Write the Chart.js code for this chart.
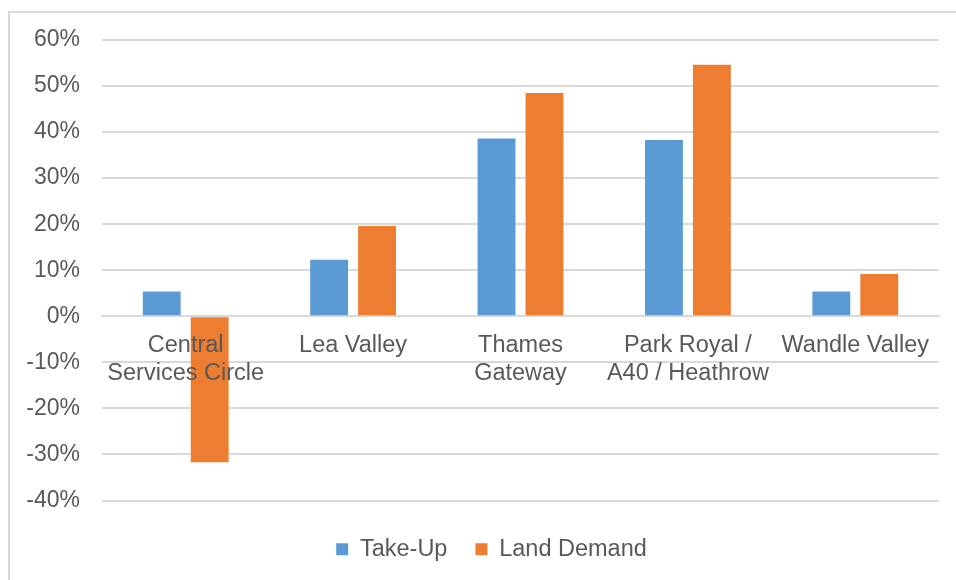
<!DOCTYPE html>
<html>
<head>
<meta charset="utf-8">
<script src="https://cdn.jsdelivr.net/npm/chart.js@4.4.1/dist/chart.umd.min.js"></script>
<style>
  html, body { margin: 0; padding: 0; background: #fff; }
  #wrap { position: relative; width: 956px; height: 580px; overflow: hidden; }
  #frame { position: absolute; left: 8px; top: 11px; width: 1000px; height: 700px;
           border-top: 2px solid #d9d9d9; border-left: 2px solid #d9d9d9; box-sizing: border-box; }
  canvas { position: absolute; left: 0; top: 0; }
</style>
</head>
<body>
<div id="wrap">
  <div id="frame"></div>
  <canvas id="c" width="956" height="580"></canvas>
</div>
<script>
const categories = [
  ["Central", "Services Circle"],
  ["Lea Valley"],
  ["Thames", "Gateway"],
  ["Park Royal /", "A40 / Heathrow"],
  ["Wandle Valley"]
];
const takeUp = [5.4, 12.3, 38.6, 38.3, 5.4];
const landDemand = [-31.7, 19.6, 48.5, 54.6, 9.2];
const seriesNames = ["Take-Up", "Land Demand"];
const yMin = -40, yMax = 60, yStep = 10;

const textColor = "#595959";
const gridColor = "#d9d9d9";
const fontFamily = "'Liberation Sans', Arial, sans-serif";

// shift the legend block to where the reference places it
const legendShift = {
  id: "legendShift",
  afterLayout(chart) {
    const lg = chart.legend;
    if (!lg) return;
    lg.left += 18; lg.right += 18;
    lg.top += 9; lg.bottom += 9;
  }
};

new Chart(document.getElementById("c"), {
  type: "bar",
  data: {
    labels: categories,
    datasets: [
      { label: seriesNames[0], data: takeUp, backgroundColor: "#5B9BD5" },
      { label: seriesNames[1], data: landDemand, backgroundColor: "#ED7D31" }
    ]
  },
  plugins: [legendShift],
  options: {
    responsive: false,
    animation: false,
    devicePixelRatio: 1,
    layout: { padding: { left: 8, right: 17, top: 40, bottom: 18 } },
    datasets: { bar: { categoryPercentage: 0.573, barPercentage: 0.79 } },
    plugins: {
      tooltip: { enabled: false },
      legend: {
        position: "bottom",
        labels: {
          color: textColor,
          font: { family: fontFamily, size: 23.5 },
          boxWidth: 12, boxHeight: 12,
          padding: 28
        }
      }
    },
    scales: {
      x: {
        position: { y: 0 },
        grid: { display: false, drawTicks: false },
        border: { display: true, color: gridColor, width: 2 },
        ticks: {
          z: 1,
          color: textColor,
          font: { family: fontFamily, size: 23.5, lineHeight: 1.2 },
          padding: 15,
          maxRotation: 0, autoSkip: false
        }
      },
      y: {
        min: yMin, max: yMax,
        afterFit: (s) => { s.width = 94; },
        grid: { color: gridColor, lineWidth: 2, drawTicks: false },
        border: { display: false },
        ticks: {
          stepSize: yStep,
          color: textColor,
          font: { family: fontFamily, size: 23 },
          padding: 22,
          callback: (v) => v + "%"
        }
      }
    }
  }
});
</script>
</body>
</html>
